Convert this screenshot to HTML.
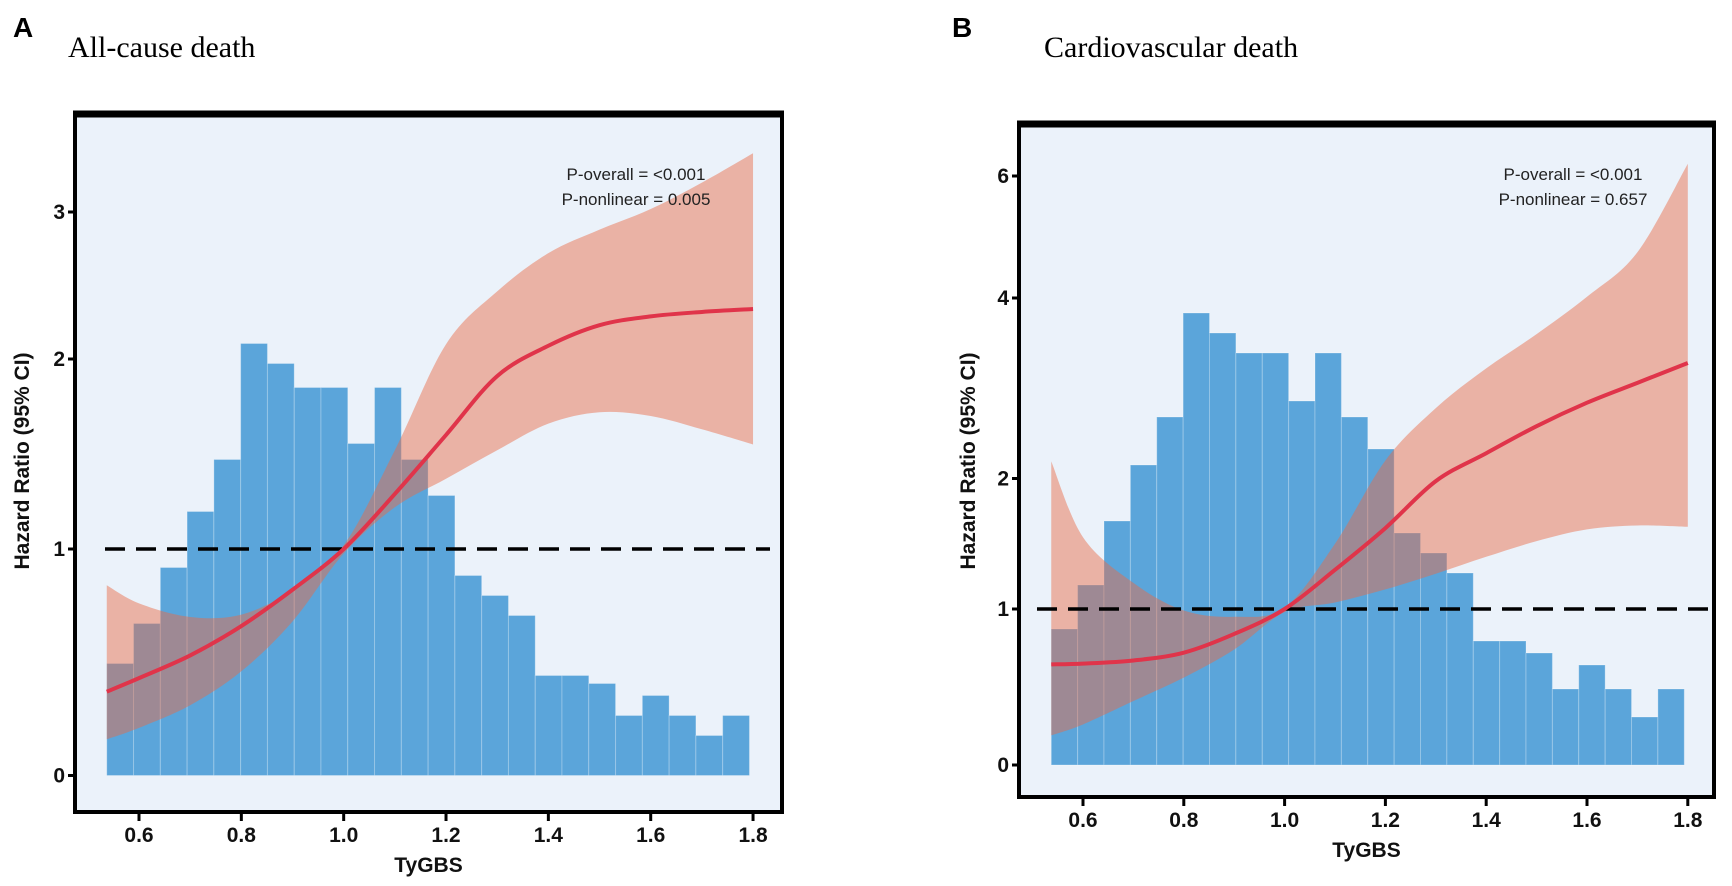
<!DOCTYPE html>
<html><head><meta charset="utf-8">
<style>
html,body{margin:0;padding:0;background:#fff;}
svg{display:block;}
text{font-family:"Liberation Sans",Arial,sans-serif;}
</style></head>
<body>
<svg id="fig" width="1732" height="886" viewBox="0 0 1732 886" xmlns="http://www.w3.org/2000/svg">
  <text x="13" y="37" font-size="28" font-weight="bold">A</text>
  <text x="68" y="57" font-size="30" style="font-family:'Liberation Serif',serif">All-cause death</text>
  <text x="952" y="37" font-size="28" font-weight="bold">B</text>
  <text x="1044" y="57" font-size="30" style="font-family:'Liberation Serif',serif">Cardiovascular death</text>
  <g id="pa"></g>
  <g id="pb"></g>
</svg>
<script>
// ---- Panel A data ----
const xTickLabels = ["0.6","0.8","1.0","1.2","1.4","1.6","1.8"];
const xTickValues = [0.6,0.8,1.0,1.2,1.4,1.6,1.8];
const histStart = 0.537;
const histEnd = 1.793;
const aHist = [28,38,52,66,79,108,103,97,97,83,97,79,70,50,45,40,25,25,23,15,20,15,10,15];
const aCurveX = [0.537,0.6,0.7,0.8,0.9,1.0,1.1,1.2,1.3,1.4,1.5,1.6,1.7,1.8];
const aHR    = [0.37,0.43,0.53,0.66,0.82,1.0,1.29,1.6,1.91,2.09,2.23,2.29,2.32,2.34];
const aUpper = [0.84,0.76,0.70,0.71,0.82,1.02,1.52,2.1,2.46,2.72,2.88,3.02,3.2,3.4];
const aLower = [0.16,0.21,0.31,0.46,0.68,0.98,1.22,1.37,1.52,1.66,1.72,1.70,1.63,1.55];
const aYTicks = [0,1,2,3];
const aPText = ["P-overall = <0.001","P-nonlinear = 0.005"];
// ---- Panel B data ----
const bHist = [34,45,61,75,87,113,108,103,103,91,103,87,79,58,53,48,31,31,28,19,25,19,12,19];
const bCurveX = [0.537,0.6,0.7,0.8,0.9,1.0,1.1,1.2,1.3,1.4,1.5,1.6,1.7,1.8];
const bHR    = [0.645,0.65,0.67,0.72,0.84,1.0,1.3,1.62,1.98,2.28,2.58,2.84,3.06,3.28];
const bUpper = [2.19,1.55,1.2,0.99,0.95,1.01,1.5,2.2,2.78,3.22,3.6,4.02,4.75,6.2];
const bLower = [0.19,0.26,0.41,0.56,0.74,0.98,1.05,1.15,1.27,1.40,1.52,1.61,1.64,1.63];
const bYTicks = [0,1,2,4,6];
const bPText = ["P-overall = <0.001","P-nonlinear = 0.657"];

const NS="http://www.w3.org/2000/svg";
function mk(parent,tag,attrs){const e=document.createElementNS(NS,tag);for(const k in attrs)e.setAttribute(k,attrs[k]);parent.appendChild(e);return e;}
function smooth(pts,start){
  let cd=(start?'M':'L')+pts[0][0]+','+pts[0][1];
  for(let i=0;i<pts.length-1;i++){
    const p0=pts[Math.max(i-1,0)],p1=pts[i],p2=pts[i+1],p3=pts[Math.min(i+2,pts.length-1)];
    cd+='C'+(p1[0]+(p2[0]-p0[0])/6)+','+(p1[1]+(p2[1]-p0[1])/6)+' '+(p2[0]-(p3[0]-p1[0])/6)+','+(p2[1]-(p3[1]-p1[1])/6)+' '+p2[0]+','+p2[1];
  }
  return cd;
}

function drawPanel(g,cfg){
  const xs=v=>cfg.x0+(v-0.6)*cfg.xpx;
  const ys=v=>{
    const t=cfg.hrT,p=cfg.hrP;
    let i=0; while(i<t.length-2 && v>t[i+1]) i++;
    return p[i]+(v-t[i])*(p[i+1]-p[i])/(t[i+1]-t[i]);
  };
  const cs=c=>ys(0)-c*cfg.cpx;
  const L=cfg.left,R=cfg.right,T=cfg.top,B=cfg.bottom;
  const bg=mk(g,'rect',{x:L,y:T,width:R-L,height:B-T,fill:'#ebf2fa'});
  
  
  const hg=mk(g,'g',{});
  
  
  const w=(histEnd-histStart)/cfg.hist.length;
  cfg.hist.forEach((c,i)=>{
    const x1=xs(histStart+i*w),x2=xs(histStart+(i+1)*w);
    const r=mk(hg,'rect',{x:x1,y:cs(c),width:x2-x1,height:ys(0)-cs(c),fill:'#5ba5da',stroke:'rgba(255,255,255,0.25)','stroke-width':1});
    
    
  });
  const upPts=cfg.cx.map((v,i)=>[xs(v),ys(cfg.up[i])]);
  const loPts=cfg.cx.map((v,i)=>[xs(v),ys(cfg.lo[i])]).reverse();
  const band=mk(g,'path',{d:smooth(upPts,true)+smooth(loPts,false)+'Z',fill:'rgba(233,106,70,0.47)'});
  
  
  const ref=mk(g,'line',{x1:cfg.dashX1,x2:cfg.dashX2,y1:ys(1),y2:ys(1),stroke:'#000','stroke-width':3.5,'stroke-dasharray':'20,11'});
  
  
  const pts=cfg.cx.map((v,i)=>[xs(v),ys(cfg.hr[i])]);
  const curve=mk(g,'path',{d:smooth(pts,true),fill:'none',stroke:'#e0344a','stroke-width':4});
  
  
  const fr=mk(g,'path',{d:`M${L},${B} L${L},${T} L${R},${T} L${R},${B}`,fill:'none',stroke:'#000','stroke-width':4});
  
  
  const topb=mk(g,'line',{x1:L-2,x2:R+2,y1:T,y2:T,stroke:'#000','stroke-width':7});
  
  
  const xa=mk(g,'line',{x1:L-2,x2:R+2,y1:B,y2:B,stroke:'#000','stroke-width':4});
  
  
  xTickValues.forEach((v,i)=>{
    const t=mk(g,'line',{x1:xs(v),x2:xs(v),y1:B,y2:B+9,stroke:'#000','stroke-width':3});
    
    
    const lb=mk(g,'text',{x:xs(v),y:B+30,'font-size':21,'font-weight':'bold','text-anchor':'middle',fill:'#111'});
    lb.textContent=xTickLabels[i];
    
    
  });
  const xt=mk(g,'text',{x:(L+R)/2,y:B+60,'font-size':21,'font-weight':'bold','text-anchor':'middle',fill:'#111'});
  xt.textContent='TyGBS';
  
  
  cfg.yt.forEach(v=>{
    const t=mk(g,'line',{x1:L-7,x2:L,y1:ys(v),y2:ys(v),stroke:'#000','stroke-width':3});
    
    
    const lb=mk(g,'text',{x:L-10,y:ys(v)+7,'font-size':21,'font-weight':'bold','text-anchor':'end',fill:'#111'});
    lb.textContent=String(v);
    
    
  });
  const yt=mk(g,'text',{x:0,y:0,'font-size':21,'font-weight':'bold','text-anchor':'middle',fill:'#111',transform:`translate(${cfg.ylabX},461) rotate(-90)`});
  yt.textContent='Hazard Ratio (95% CI)';
  
  
  cfg.ptext.forEach((s,i)=>{
    const p=mk(g,'text',{x:cfg.ptx,y:180+i*25,'font-size':17,'text-anchor':'middle',fill:'#222'});
    p.textContent=s;
    
    
  });
}

drawPanel(document.getElementById('pa'),{
  x0:139,xpx:511.7,left:75,right:782,top:114,bottom:812,
  hrT:aYTicks,hrP:[775.5,549,359,212],cpx:4,
  hist:aHist,cx:aCurveX,hr:aHR,up:aUpper,lo:aLower,yt:aYTicks,
  dashX1:105,dashX2:770,ylabX:29,ptx:636,ptext:aPText
});
drawPanel(document.getElementById('pb'),{
  x0:1083,xpx:504,left:1019,right:1714,top:124,bottom:797,
  hrT:bYTicks,hrP:[765,609,478.5,298,176],cpx:4,
  hist:bHist,cx:bCurveX,hr:bHR,up:bUpper,lo:bLower,yt:bYTicks,
  dashX1:1037,dashX2:1710,ylabX:975,ptx:1573,ptext:bPText
});
</script>
</body></html>
